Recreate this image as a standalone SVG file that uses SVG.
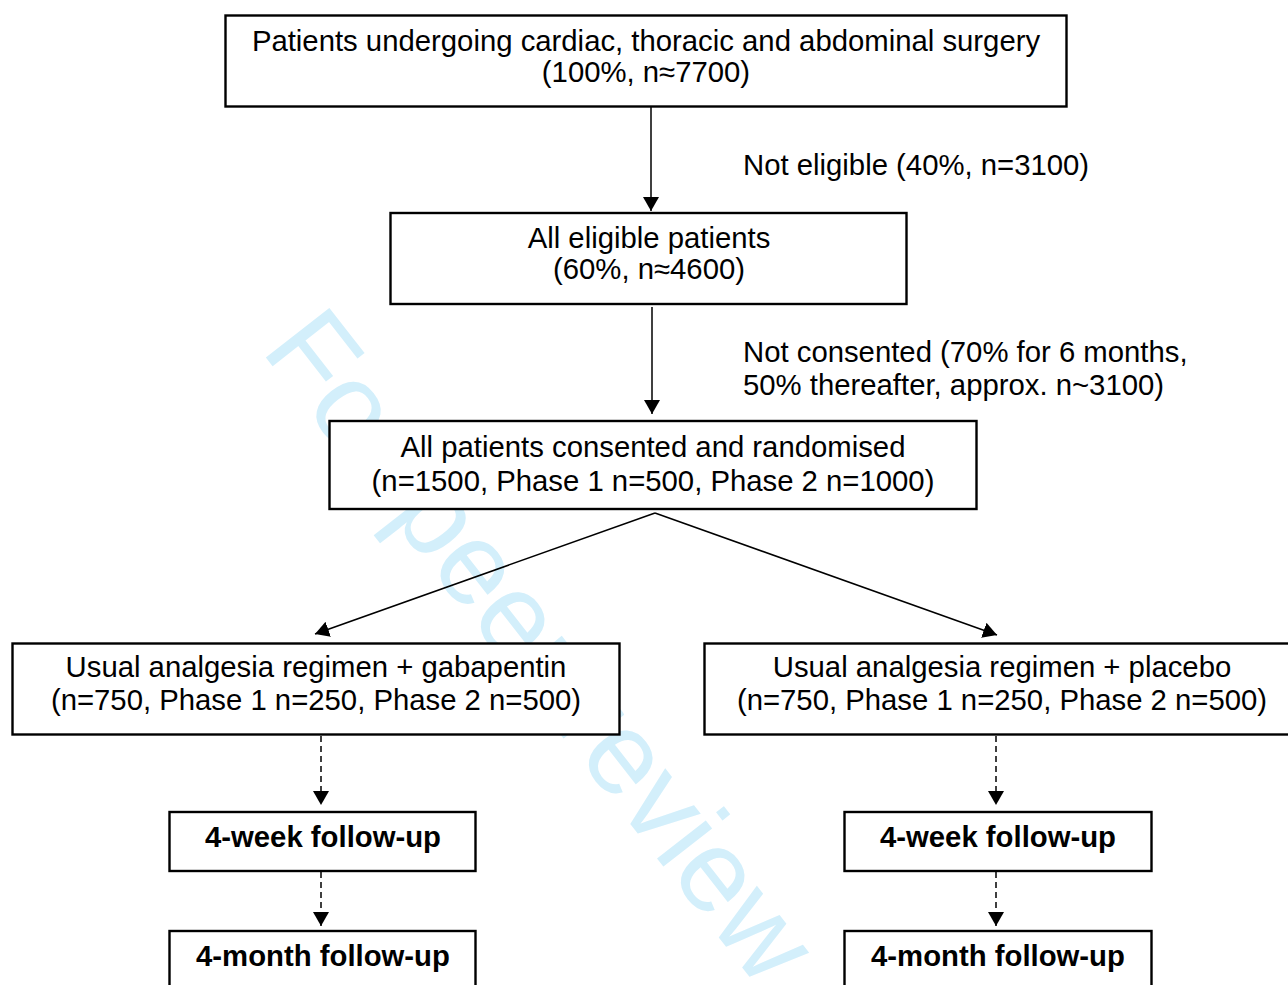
<svg xmlns="http://www.w3.org/2000/svg" width="1288" height="985" viewBox="0 0 1288 985">
<style>
.box{fill:#fff;stroke:#000;stroke-width:2.4}
.t{font-family:"Liberation Sans",Arial,sans-serif;font-size:29.3px;fill:#000}
.c{text-anchor:middle}
.b{font-weight:bold}
.ln{stroke:#000;stroke-width:1.5;fill:none}
.dash{stroke-dasharray:6,4}
.wm{font-family:"Liberation Sans",Arial,sans-serif;font-size:117px;fill:#d3effb}
</style>
<defs>
<marker id="ah" markerUnits="userSpaceOnUse" markerWidth="16" markerHeight="16" refX="14" refY="8" orient="auto">
<path d="M0,0 L14,8 L0,16 z" fill="#000"/>
</marker>
</defs>
<rect width="1288" height="985" fill="#fff"/>
<text class="wm" transform="translate(260,350) rotate(52)">For peer review</text>
<g id="connectors">
<line class="ln" x1="651" y1="106" x2="651" y2="211" marker-end="url(#ah)"/>
<line class="ln" x1="652" y1="307" x2="652" y2="414" marker-end="url(#ah)"/>
<line class="ln" x1="655" y1="513" x2="315" y2="634" marker-end="url(#ah)"/>
<line class="ln" x1="655" y1="513" x2="997" y2="635" marker-end="url(#ah)"/>
<line class="ln dash" x1="321" y1="736" x2="321" y2="805" marker-end="url(#ah)"/>
<line class="ln dash" x1="321" y1="872" x2="321" y2="926" marker-end="url(#ah)"/>
<line class="ln dash" x1="996" y1="736" x2="996" y2="805" marker-end="url(#ah)"/>
<line class="ln dash" x1="996" y1="872" x2="996" y2="926" marker-end="url(#ah)"/>
<text class="t" x="743" y="175">Not eligible (40%, n=3100)</text>
<text class="t" x="743" y="362">Not consented (70% for 6 months,</text>
<text class="t" x="743" y="395">50% thereafter, approx. n~3100)</text>
</g>
<g id="n1">
<rect class="box" x="225.5" y="15.5" width="841" height="91"/>
<text class="t c" x="646" y="51">Patients undergoing cardiac, thoracic and abdominal surgery</text>
<text class="t c" x="646" y="82">(100%, n≈7700)</text>
</g>
<g id="n2">
<rect class="box" x="390.5" y="213" width="516" height="91"/>
<text class="t c" x="649" y="248">All eligible patients</text>
<text class="t c" x="649" y="279">(60%, n≈4600)</text>
</g>
<g id="n3">
<rect class="box" x="329.5" y="421" width="647" height="88"/>
<text class="t c" x="653" y="457">All patients consented and randomised</text>
<text class="t c" x="653" y="491">(n=1500, Phase 1 n=500, Phase 2 n=1000)</text>
</g>
<g id="n4">
<rect class="box" x="12.5" y="643.5" width="607" height="91"/>
<text class="t c" x="316" y="677">Usual analgesia regimen + gabapentin</text>
<text class="t c" x="316" y="710">(n=750, Phase 1 n=250, Phase 2 n=500)</text>
</g>
<g id="n5">
<rect class="box" x="704.5" y="643.5" width="595" height="91"/>
<text class="t c" x="1002" y="677">Usual analgesia regimen + placebo</text>
<text class="t c" x="1002" y="710">(n=750, Phase 1 n=250, Phase 2 n=500)</text>
</g>
<g id="n6">
<rect class="box" x="169.5" y="812" width="306" height="59"/>
<text class="t c b" x="323" y="847">4-week follow-up</text>
</g>
<g id="n7">
<rect class="box" x="169.5" y="931" width="306" height="70"/>
<text class="t c b" x="323" y="966">4-month follow-up</text>
</g>
<g id="n8">
<rect class="box" x="844.5" y="812" width="307" height="59"/>
<text class="t c b" x="998" y="847">4-week follow-up</text>
</g>
<g id="n9">
<rect class="box" x="844.5" y="931" width="307" height="70"/>
<text class="t c b" x="998" y="966">4-month follow-up</text>
</g>
</svg>
